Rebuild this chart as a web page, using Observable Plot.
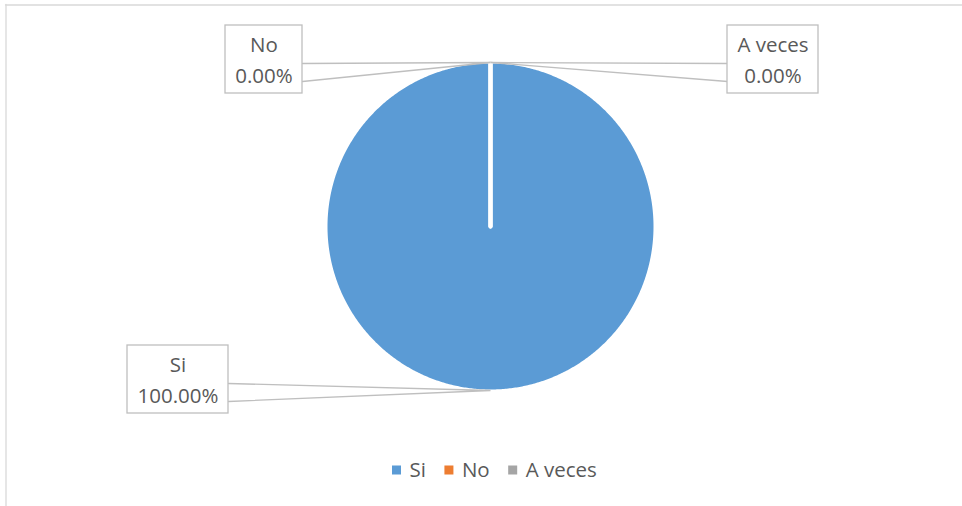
<!DOCTYPE html>
<html><head><meta charset="utf-8">
<script src="https://cdn.jsdelivr.net/npm/d3@7"></script>
<script src="https://cdn.jsdelivr.net/npm/@observablehq/plot@0.6"></script>
<style>body{margin:0;background:#fff} svg{display:block}</style>
</head><body><div id="chart"></div>
<script>
// ---- data ----
const categories = ["Si", "No", "A veces"];
const values = [100, 0, 0];
const colors = ["#5b9bd5", "#ed7d31", "#a5a5a5"];

// ---- layout ----
const W = 962, H = 506;
const FONT = "'Open Sans', sans-serif";
const FS = 20.5;
const TEXT_COLOR = "#595959";
const cx = 490, cy = 226, R = 165, edgeR = 164;
// data-label boxes (center x/y, width, which side the leader leaves from)
const labelLayout = [
  {bx: 177.5, by: 379, w: 101, h: 68, side: "right"},
  {bx: 263.5, by: 59, w: 77, h: 68, side: "right"},
  {bx: 772.5, by: 59, w: 91, h: 68, side: "left"}
];

const total = d3.sum(values);
const rows = categories.map((c, i) => ({cat: c, value: values[i]}));
const arcs = d3.pie().sort(null).value(d => d.value)(rows);

// slice outlines derived from the pie angles
const piePts = arcs.flatMap(a => {
  const n = Math.max(2, Math.ceil((a.endAngle - a.startAngle) / (Math.PI / 360)));
  const pts = [{cat: a.data.cat, x: cx, y: cy}];
  for (let i = 0; i <= n; i++) {
    const ang = a.startAngle + (a.endAngle - a.startAngle) * i / n;
    pts.push({cat: a.data.cat, x: cx + R * Math.sin(ang), y: cy - R * Math.cos(ang)});
  }
  pts.push({cat: a.data.cat, x: cx, y: cy});
  return pts;
});

const labels = arcs.map((a, i) => {
  const L = labelLayout[i];
  const mid = (a.startAngle + a.endAngle) / 2;
  const ax = cx + edgeR * Math.sin(mid), ay = cy - edgeR * Math.cos(mid);
  const top = L.by - L.h / 2;
  const ex = L.side === "right" ? L.bx + L.w / 2 : L.bx - L.w / 2;
  return {
    cat: a.data.cat,
    pct: (a.data.value / total * 100).toFixed(2) + "%",
    bx: L.bx, by: L.by,
    x1: L.bx - L.w / 2, x2: L.bx + L.w / 2, y1: top, y2: top + L.h,
    leader: [
      {cat: a.data.cat, x: ex, y: top + 38},
      {cat: a.data.cat, x: ax, y: ay},
      {cat: a.data.cat, x: ex, y: top + 56}
    ]
  };
});
const leaderPts = labels.flatMap(d => d.leader);

// legend, positioned by measured text widths
const ctx = document.createElement("canvas").getContext("2d");
ctx.font = FS + "px " + FONT;
const MK = 9, GAP1 = 8, GAP2 = 19, LY = 470;
let lx = 392;
const legend = categories.map((c, i) => {
  const item = {cat: c, mx1: lx, mx2: lx + MK, tx: lx + MK + GAP1};
  lx = item.tx + ctx.measureText(c).width + GAP2;
  return item;
});

const chart = Plot.plot({
  width: W, height: H, margin: 0,
  x: {domain: [0, W], range: [0, W], axis: null},
  y: {domain: [0, H], range: [0, H], axis: null},
  color: {domain: categories, range: colors},
  style: {fontFamily: FONT, background: "#fff"},
  marks: [
    // chart border
    Plot.line([[5, 4.5], [W, 4.5]], {stroke: "#d9d9d9", strokeWidth: 1.3}),
    Plot.line([[5.5, 4], [5.5, H]], {stroke: "#d9d9d9", strokeWidth: 1.3}),
    // pie slices
    Plot.line(piePts, {x: "x", y: "y", z: "cat", fill: "cat", stroke: "white", strokeWidth: 4, strokeLinejoin: "miter", strokeMiterlimit: 4}),
    // leader lines
    Plot.line(leaderPts, {x: "x", y: "y", z: "cat", stroke: "#bfbfbf", strokeWidth: 1.3, strokeLinejoin: "miter", strokeMiterlimit: 10}),
    // label boxes
    Plot.rect(labels, {x1: "x1", x2: "x2", y1: "y1", y2: "y2", fill: "white", stroke: "#bfbfbf", strokeWidth: 1.3}),
    Plot.text(labels, {x: "bx", y: d => d.by - 14, text: "cat", fontSize: FS, fill: TEXT_COLOR, lineAnchor: "middle"}),
    Plot.text(labels, {x: "bx", y: d => d.by + 17, text: "pct", fontSize: FS, fill: TEXT_COLOR, lineAnchor: "middle"}),
    // legend
    Plot.rect(legend, {x1: "mx1", x2: "mx2", y1: LY - 4.5, y2: LY + 4.5, fill: "cat"}),
    Plot.text(legend, {x: "tx", y: LY, text: "cat", textAnchor: "start", fontSize: FS, fill: TEXT_COLOR, lineAnchor: "middle"})
  ]
});
document.getElementById("chart").append(chart);
</script>
</body></html>
